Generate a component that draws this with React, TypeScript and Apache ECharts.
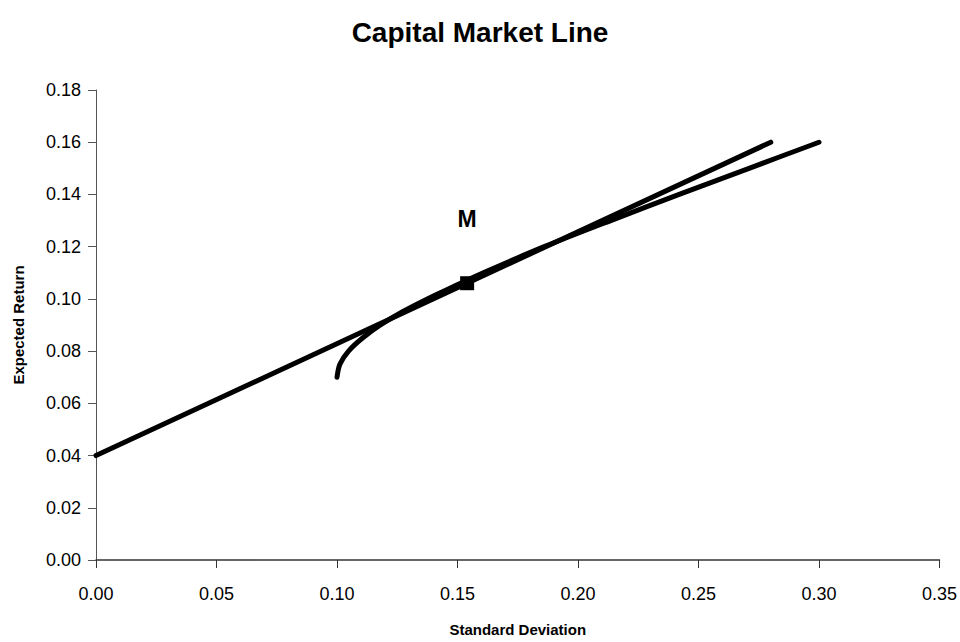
import React, { useEffect, useRef } from "react";
import * as echarts from "echarts";

const titleText = "Capital Market Line";
const xAxisName = "Standard Deviation";
const yAxisName = "Expected Return";

// Efficient frontier: [standard deviation, expected return]
const frontierSigma = [0.1, 0.1012, 0.1048, 0.1106, 0.118, 0.127, 0.1375, 0.149, 0.1607, 0.186, 0.2136, 0.242, 0.271, 0.3];
const frontierReturn = [0.07, 0.075, 0.08, 0.085, 0.09, 0.095, 0.1, 0.105, 0.11, 0.12, 0.13, 0.14, 0.15, 0.16];

// Capital market line
const cmlSigma = [0, 0.28];
const cmlReturn = [0.04, 0.16];

// Market portfolio
const marketSigma = [0.154];
const marketReturn = [0.106];
const marketLabel = "M";

const font = "'Liberation Sans', Arial, sans-serif";

export default function App() {
  const ref = useRef<HTMLDivElement>(null);

  useEffect(() => {
    document.body.style.margin = "0";
    if (!ref.current) return;
    const chart = echarts.init(ref.current, undefined, { renderer: "svg" });
    const zip = (a: number[], b: number[]) => a.map((v, i) => [v, b[i]]);
    chart.setOption({
      animation: false,
      backgroundColor: "#ffffff",
      title: {
        text: titleText,
        left: "center",
        top: 13,
        textStyle: { fontFamily: font, fontWeight: "bold", fontSize: 28, color: "#000" },
      },
      grid: { left: 96, right: 20, top: 90, bottom: 79 },
      xAxis: {
        type: "value",
        min: 0,
        max: 0.35,
        interval: 0.05,
        name: xAxisName,
        nameLocation: "middle",
        nameGap: 62,
        nameTextStyle: { fontFamily: font, fontWeight: "bold", fontSize: 15, color: "#000" },
        axisLine: { show: true, onZero: false, lineStyle: { color: "#333", width: 1.5 } },
        axisTick: { show: true, length: 8, lineStyle: { color: "#333" } },
        axisLabel: {
          margin: 25,
          fontFamily: font,
          fontSize: 18,
          color: "#000",
          formatter: (v: number) => v.toFixed(2),
        },
        splitLine: { show: false },
      },
      yAxis: {
        type: "value",
        min: 0,
        max: 0.18,
        interval: 0.02,
        name: yAxisName,
        nameLocation: "middle",
        nameGap: 70,
        nameRotate: 90,
        nameTextStyle: { fontFamily: font, fontWeight: "bold", fontSize: 15, color: "#000" },
        axisLine: { show: true, onZero: false, lineStyle: { color: "#555", width: 1 } },
        axisTick: { show: true, length: 8, lineStyle: { color: "#555" } },
        axisLabel: {
          margin: 15,
          fontFamily: font,
          fontSize: 18,
          color: "#000",
          formatter: (v: number) => v.toFixed(2),
        },
        splitLine: { show: false },
      },
      series: [
        {
          type: "line",
          data: zip(frontierSigma, frontierReturn),
          smooth: 0.3,
          showSymbol: false,
          lineStyle: { color: "#000", width: 5, cap: "round", join: "round" },
        },
        {
          type: "line",
          data: zip(cmlSigma, cmlReturn),
          showSymbol: false,
          lineStyle: { color: "#000", width: 5, cap: "round" },
        },
        {
          type: "scatter",
          data: zip(marketSigma, marketReturn),
          symbol: "rect",
          symbolSize: 14,
          itemStyle: { color: "#000", opacity: 1 },
          label: {
            show: true,
            position: "top",
            distance: 46,
            formatter: () => marketLabel,
            fontFamily: font,
            fontWeight: "bold",
            fontSize: 23,
            color: "#000",
          },
          z: 5,
        },
      ],
    });
    return () => chart.dispose();
  }, []);

  return <div ref={ref} style={{ width: 960, height: 642, position: "absolute", left: 0, top: 0 }} />;
}
